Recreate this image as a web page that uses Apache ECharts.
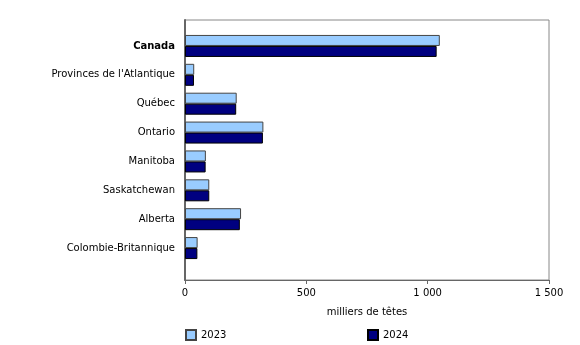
<!DOCTYPE html>
<html>
<head>
<meta charset="utf-8">
<script src="https://cdn.jsdelivr.net/npm/echarts@6/dist/echarts.min.js"></script>
<style>
  html, body { margin: 0; padding: 0; background: #fff; }
  #chart { width: 580px; height: 345px; }
</style>
</head>
<body>
<div id="chart"></div>
<script>
const categories = [
  "Canada",
  "Provinces de l'Atlantique",
  "Québec",
  "Ontario",
  "Manitoba",
  "Saskatchewan",
  "Alberta",
  "Colombie-Britannique"
];
const values2023 = [1050, 38, 213, 323, 86, 100, 231, 52];
const values2024 = [1037, 37, 211, 321, 85, 100, 226, 51];
const xTicks = [0, 500, 1000, 1500];

const font = "DejaVu Sans";
const chartDom = document.getElementById("chart");
const myChart = echarts.init(chartDom);

const fmt = (v) => String(v).replace(/\B(?=(\d{3})+(?!\d))/g, " ");

const option = {
  animation: false,
  backgroundColor: "#ffffff",
  textStyle: { fontFamily: font },
  grid: [
    {
      // frame + value axis
      left: 185, top: 20, width: 364, height: 260,
      show: true, borderColor: "#888888", borderWidth: 1,
      containLabel: false
    },
    {
      // bars
      left: 185, top: 31.5, width: 364, height: 231,
      containLabel: false
    }
  ],
  legend: [
    {
      data: ["2023"], left: 185, top: 329, padding: 0,
      itemWidth: 10, itemHeight: 10, icon: "rect", itemGap: 4,
      textStyle: { fontFamily: font, fontSize: 10, color: "#000" }
    },
    {
      data: ["2024"], left: 367, top: 329, padding: 0,
      itemWidth: 10, itemHeight: 10, icon: "rect",
      textStyle: { fontFamily: font, fontSize: 10, color: "#000" }
    }
  ],
  xAxis: [
    {
      gridIndex: 0,
      type: "value",
      min: xTicks[0], max: xTicks[xTicks.length - 1], interval: 500,
      axisLine: { show: true, lineStyle: { color: "#666666", width: 1 } },
      axisTick: { show: true, length: 4, lineStyle: { color: "#666666" } },
      splitLine: { show: false },
      axisLabel: { fontFamily: font, fontSize: 10, color: "#000", margin: 8, formatter: fmt },
      name: "milliers de têtes",
      nameLocation: "middle",
      nameGap: 27,
      nameTextStyle: { fontFamily: font, fontSize: 10, color: "#000" }
    },
    {
      gridIndex: 1,
      type: "value",
      min: xTicks[0], max: xTicks[xTicks.length - 1],
      show: false
    }
  ],
  yAxis: [
    {
      gridIndex: 0,
      type: "value",
      show: true,
      axisLine: { show: true, lineStyle: { color: "#666666", width: 2 } },
      axisTick: { show: false },
      axisLabel: { show: false },
      splitLine: { show: false }
    },
    {
      gridIndex: 1,
      type: "category",
      inverse: true,
      data: categories,
      axisLine: { show: false },
      axisTick: { show: false },
      axisLabel: {
        fontFamily: font, fontSize: 10, color: "#000", margin: 10,
        formatter: (v) => (v === "Canada" ? "{b|" + v + "}" : v),
        rich: { b: { fontFamily: font, fontSize: 10, fontWeight: "bold", color: "#000" } }
      }
    }
  ],
  series: [
    {
      name: "2023",
      type: "bar",
      xAxisIndex: 1, yAxisIndex: 1,
      data: values2023,
      barWidth: 11,
      barGap: "0%",
      itemStyle: { color: "#99ccff", borderColor: "#444444", borderWidth: 1 }
    },
    {
      name: "2024",
      type: "bar",
      xAxisIndex: 1, yAxisIndex: 1,
      data: values2024,
      barWidth: 11,
      barGap: "0%",
      itemStyle: { color: "#000080", borderColor: "#000000", borderWidth: 1 }
    }
  ]
};

myChart.setOption(option);
</script>
</body>
</html>
